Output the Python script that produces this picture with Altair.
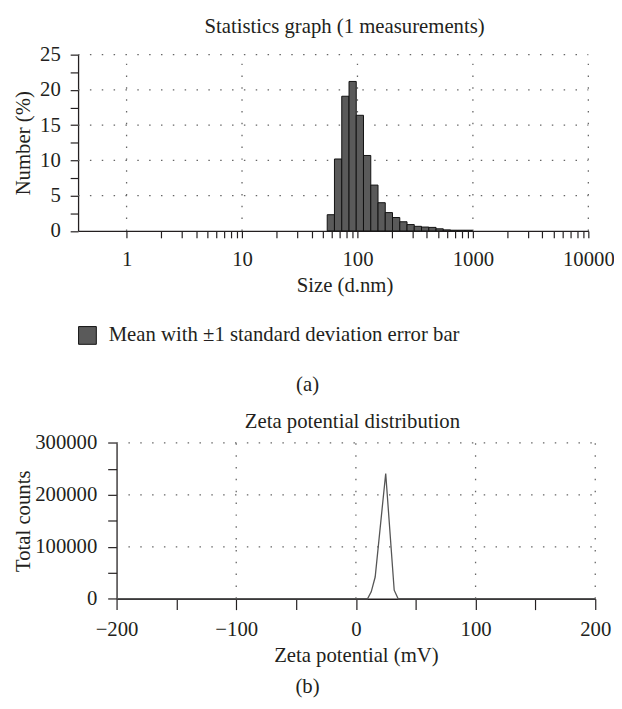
import altair as alt
import pandas as pd

FONT = "Liberation Serif"
FS = 21
INK = "#231f20"
GRID = "#666666"

# ---------------- Panel (a): size distribution by number ----------------
size_lo = [54.7, 63.2, 73.1, 84.5, 97.6, 112.8, 130.4, 150.7, 174.1, 201.2,
           232.6, 268.8, 310.6, 358.9, 414.8, 479.4, 554.0, 640.4, 740.0, 855.2]
size_hi = [63.2, 73.1, 84.5, 97.6, 112.8, 130.4, 150.7, 174.1, 201.2, 232.6,
           268.8, 310.6, 358.9, 414.8, 479.4, 554.0, 640.4, 740.0, 855.2, 988.0]
number_pct = [2.3, 10.2, 19.1, 21.2, 16.4, 10.7, 6.5, 4.0, 2.6, 1.9,
              1.3, 0.9, 0.65, 0.55, 0.5, 0.3, 0.15, 0.1, 0.1, 0.1]
legend_label = "Mean with \u00b11 standard deviation error bar"
size_domain = [0.38, 10000]
size_ticks = [1, 2, 3, 4, 5, 6, 7, 8, 9,
              10, 20, 30, 40, 50, 60, 70, 80, 90,
              100, 200, 300, 400, 500, 600, 700, 800, 900,
              1000, 2000, 3000, 4000, 5000, 6000, 7000, 8000, 9000, 10000]
size_grid = [1, 10, 100, 1000, 10000]
number_domain = [0, 25]
number_ticks = [0, 2.5, 5, 7.5, 10, 12.5, 15, 17.5, 20, 22.5, 25]
number_grid = [5, 10, 15, 20, 25]

# ---------------- Panel (b): zeta potential distribution ----------------
zeta_mv = [-200, 9.7, 12.8, 16.1, 24.9, 32.0, 35.3, 200]
zeta_counts = [0, 0, 13300, 41800, 241000, 16500, 0, 0]
zeta_domain = [-200, 200]
zeta_ticks = [-200, -150, -100, -50, 0, 50, 100, 150, 200]
zeta_grid = [-100, 0, 100, 200]
count_domain = [0, 300000]
count_ticks = [0, 50000, 100000, 150000, 200000, 250000, 300000]
count_grid = [100000, 200000, 300000]

titles = ["Statistics graph (1 measurements)", "Zeta potential distribution"]
captions = ["(a)", "(b)"]

# ---------------- layout (pixels, relative to the shared view) ----------------
VIEW_W, VIEW_H = 524, 551.3
TOP_X = [0, 517]          # top panel plot area, x
TOP_Y = [178.6, 0]        # top panel plot area, y (bottom, top)
BOT_X = [39, 524]         # bottom panel plot area, x
BOT_Y = [551.3, 393.3]    # bottom panel plot area, y (bottom, top)

grid_style = dict(color=GRID, strokeDash=[1.5, 10.5], strokeWidth=1.3)
text_style = dict(font=FONT, fontSize=FS, color=INK, align="center", baseline="middle")


def text_layer(label, x, y):
    return alt.Chart(pd.DataFrame({"c": [label]})).mark_text(**text_style).encode(
        x=alt.value(x), y=alt.value(y), text="c:N")


# ---------- top panel ----------
xs_top = alt.Scale(type="log", domain=size_domain, range=TOP_X, nice=False)
ys_top = alt.Scale(domain=number_domain, range=TOP_Y, nice=False, zero=False)

log_label = ("abs(log(datum.value)/LN10 - round(log(datum.value)/LN10)) < 0.001"
             " ? format(datum.value, 'd') : ''")
ax_top_x = alt.Axis(orient="bottom", offset=-(VIEW_H - TOP_Y[0]), values=size_ticks,
                    labelExpr=log_label, grid=False, tickSize=7, labelPadding=11,
                    titlePadding=5, titleX=270, labelFlush=False, labelOverlap=False)
ax_top_y = alt.Axis(orient="left", values=number_ticks,
                    labelExpr="datum.value % 5 == 0 ? format(datum.value, 'd') : ''",
                    grid=False, tickSize=8, labelPadding=10, titlePadding=6)

bars_df = pd.DataFrame({"lo": size_lo, "hi": size_hi, "pct": number_pct,
                        "series": [legend_label] * len(size_lo)})

top_vgrid = alt.Chart(pd.DataFrame({"g": size_grid})).mark_rule(**grid_style).encode(
    x=alt.X("g:Q", scale=xs_top, axis=ax_top_x, title="Size (d.nm)"),
    y=alt.Y(datum=number_domain[0], scale=ys_top, axis=ax_top_y, title="Number (%)"),
    y2=alt.datum(number_domain[1]))
top_hgrid = alt.Chart(pd.DataFrame({"g": number_grid})).mark_rule(**grid_style).encode(
    y=alt.Y("g:Q", scale=ys_top, axis=ax_top_y, title="Number (%)"),
    x=alt.X(datum=size_domain[0], scale=xs_top, axis=ax_top_x, title="Size (d.nm)"),
    x2=alt.datum(size_domain[1]))

bars = alt.Chart(bars_df).mark_bar(stroke="#111111", strokeWidth=1).encode(
    x=alt.X("lo:Q", scale=xs_top, title="Size (d.nm)", axis=ax_top_x),
    x2="hi:Q",
    y=alt.Y("pct:Q", scale=ys_top, title="Number (%)", axis=ax_top_y),
    y2=alt.datum(0),
    color=alt.Color("series:N", scale=alt.Scale(range=["#5a5a5a"]),
                    legend=alt.Legend(title=None, orient="none", legendX=-1, legendY=274,
                                      padding=0, symbolType="square", symbolSize=324,
                                      symbolStrokeColor="#111111", symbolStrokeWidth=1,
                                      symbolOpacity=1, labelFont=FONT, labelFontSize=FS,
                                      labelColor=INK, labelOffset=11, labelLimit=0)),
)

top = alt.layer(
    top_vgrid, top_hgrid, bars,
    text_layer(titles[0], 270, -27.7),
    text_layer(captions[0], 232.5, 334.3),
)

# ---------- bottom panel ----------
xs_bot = alt.Scale(domain=zeta_domain, range=BOT_X, nice=False, zero=False)
ys_bot = alt.Scale(domain=count_domain, range=BOT_Y, nice=False, zero=False)

zeta_label = ("datum.value % 100 == 0 ? (datum.value < 0 ? '\u2212' + format(-datum.value, 'd')"
              " : format(datum.value, 'd')) : ''")
ax_bot_x = alt.Axis(orient="bottom", values=zeta_ticks, labelExpr=zeta_label, grid=False,
                    tickSize=11, labelPadding=9, titlePadding=6,
                    labelFlush=False, labelOverlap=False)
ax_bot_y = alt.Axis(orient="left", offset=-BOT_X[0], values=count_ticks,
                    labelExpr="datum.value % 100000 == 0 ? format(datum.value, 'd') : ''",
                    grid=False, tickSize=9, labelPadding=11, titlePadding=1)

bot_vgrid = alt.Chart(pd.DataFrame({"g": zeta_grid})).mark_rule(**grid_style).encode(
    x=alt.X("g:Q", scale=xs_bot, axis=ax_bot_x, title="Zeta potential (mV)"),
    y=alt.Y(datum=count_domain[0], scale=ys_bot, axis=ax_bot_y, title="Total counts"),
    y2=alt.datum(count_domain[1]))
bot_hgrid = alt.Chart(pd.DataFrame({"g": count_grid})).mark_rule(**grid_style).encode(
    y=alt.Y("g:Q", scale=ys_bot, axis=ax_bot_y, title="Total counts"),
    x=alt.X(datum=zeta_domain[0], scale=xs_bot, axis=ax_bot_x, title="Zeta potential (mV)"),
    x2=alt.datum(zeta_domain[1]))

zeta_df = pd.DataFrame({"mv": zeta_mv, "counts": zeta_counts})
line = alt.Chart(zeta_df).mark_line(color="#555555", strokeWidth=1.3).encode(
    x=alt.X("mv:Q", scale=xs_bot, title="Zeta potential (mV)", axis=ax_bot_x),
    y=alt.Y("counts:Q", scale=ys_bot, title="Total counts", axis=ax_bot_y),
)

bottom = alt.layer(
    bot_vgrid, bot_hgrid, line,
    text_layer(titles[1], 278, 372.6),
    text_layer(captions[1], 232.5, 640.3),
)

chart = alt.layer(top, bottom).resolve_scale(
    x="independent", y="independent"
).properties(
    width=VIEW_W, height=VIEW_H, autosize="none", background="white",
    padding={"left": 71, "top": 42.7, "right": 19, "bottom": 97},
).configure_view(
    stroke=None
).configure_axis(
    domainColor=INK, domainWidth=1.3, tickColor=INK, tickWidth=1.2,
    labelFont=FONT, labelFontSize=FS, labelColor=INK,
    titleFont=FONT, titleFontSize=FS, titleColor=INK, titleFontWeight="normal",
)

chart.save("out.html", embed_options={"renderer": "svg", "actions": False})
